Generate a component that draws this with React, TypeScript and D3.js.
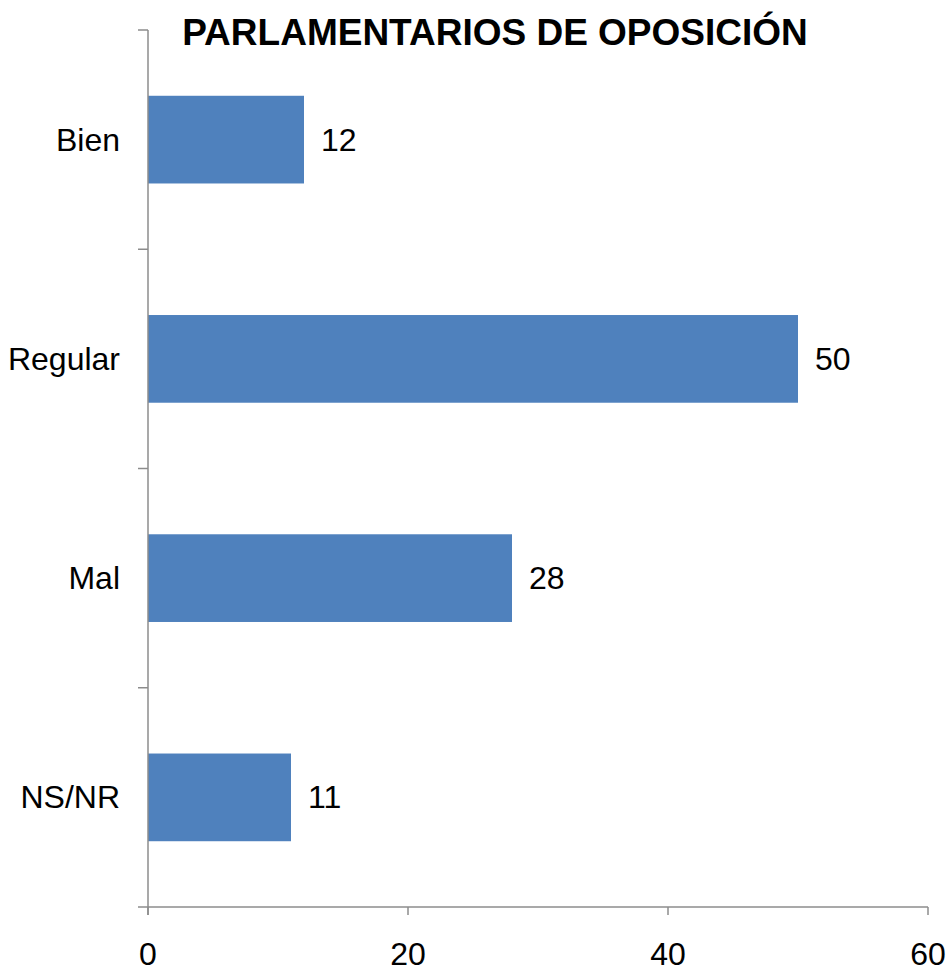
import React from "react";
import * as d3 from "d3";

const categories = ["Bien", "Regular", "Mal", "NS/NR"];
const values = [12, 50, 28, 11];
const xTicks = [0, 20, 40, 60];
const title = "PARLAMENTARIOS DE OPOSICIÓN";

const W = 948;
const H = 967;
const plot = { left: 148, right: 928, top: 30, bottom: 907 };
const font = "'Liberation Sans', Arial, sans-serif";
const axisColor = "#8c8c8c";
const barColor = "#4F81BD";
const labelSize = 32;

export default function App() {
  const x = d3.scaleLinear().domain([0, 60]).range([plot.left, plot.right]);
  const y = d3
    .scaleBand<string>()
    .domain(categories)
    .range([plot.top, plot.bottom])
    .paddingInner(0.6)
    .paddingOuter(0.3);
  const bandH = (plot.bottom - plot.top) / categories.length;
  const bandEdges = d3.range(categories.length + 1).map((i) => plot.top + i * bandH);

  return (
    <svg width={W} height={H} style={{ position: "absolute", left: 0, top: 0 }}>
      <rect width={W} height={H} fill="#fff" />
      <text x={495} y={45} textAnchor="middle" fontFamily={font} fontWeight="bold" fontSize={37} fill="#000">
        {title}
      </text>
      {categories.map((c, i) => (
        <g key={c}>
          <rect x={x(0)} y={y(c)!} width={x(values[i]) - x(0)} height={y.bandwidth()} fill={barColor} />
          <text
            x={x(values[i]) + 17}
            y={y(c)! + y.bandwidth() / 2}
            dominantBaseline="central"
            fontFamily={font}
            fontSize={labelSize}
            fill="#000"
          >
            {values[i]}
          </text>
          <text
            x={120}
            y={y(c)! + y.bandwidth() / 2}
            dominantBaseline="central"
            textAnchor="end"
            fontFamily={font}
            fontSize={labelSize}
            fill="#000"
          >
            {c}
          </text>
        </g>
      ))}
      {/* value axis */}
      <line x1={x(0)} x2={x(60)} y1={plot.bottom} y2={plot.bottom} stroke={axisColor} strokeWidth={1.5} />
      {xTicks.map((t) => (
        <g key={t}>
          <line x1={x(t)} x2={x(t)} y1={plot.bottom} y2={plot.bottom + 8} stroke={axisColor} strokeWidth={1.5} />
          <text x={x(t)} y={965} textAnchor="middle" fontFamily={font} fontSize={labelSize} fill="#000">
            {t}
          </text>
        </g>
      ))}
      {/* category axis */}
      <line x1={x(0)} x2={x(0)} y1={plot.top} y2={plot.bottom + 8} stroke={axisColor} strokeWidth={1.5} />
      {bandEdges.map((e, i) => (
        <line key={i} x1={x(0) - 10} x2={x(0)} y1={e} y2={e} stroke={axisColor} strokeWidth={1.5} />
      ))}
    </svg>
  );
}
